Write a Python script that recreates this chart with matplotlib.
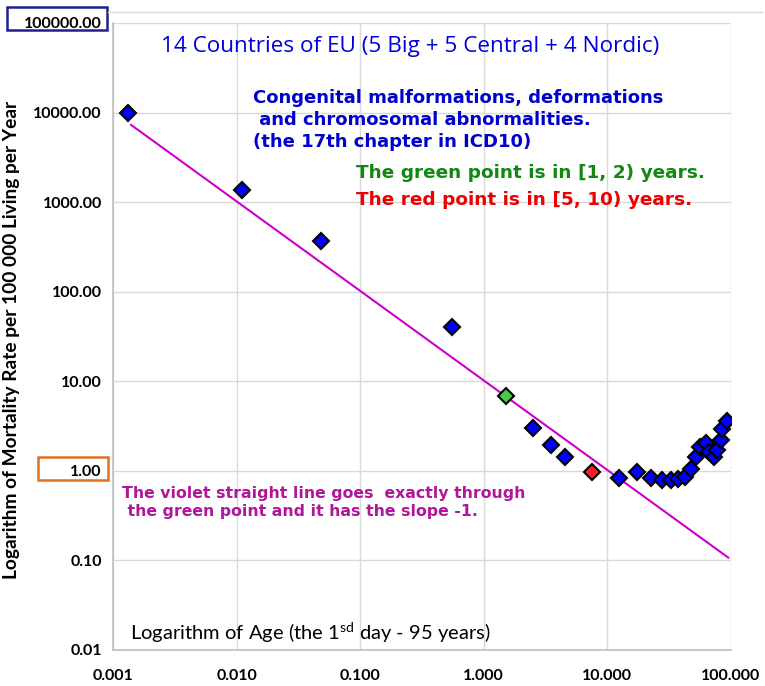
import numpy as np
import matplotlib.pyplot as plt
from matplotlib.patches import Rectangle
from matplotlib.lines import Line2D
from matplotlib.ticker import FixedLocator, FixedFormatter, NullLocator

# Age (years) and mortality rate per 100 000 living per year
ages = [0.00132, 0.0111, 0.048, 0.553, 2.5, 3.5, 4.5,
        12.5, 17.5, 22.5, 27.5, 32.5, 37.5, 42.5, 47.5, 52.5,
        56.5, 62.5, 66, 72.5, 77.5, 82.5, 85, 92.5]
rates = [9800, 1370, 370, 40.5, 3.0, 1.95, 1.43,
         0.84, 0.97, 0.835, 0.80, 0.80, 0.81, 0.86, 1.05, 1.43,
         1.85, 2.05, 1.62, 1.43, 1.72, 2.2, 2.94, 3.6]

green_age, green_rate = 1.5, 6.8
red_age, red_rate = 7.5, 0.97

line_x = [0.0014, 95.0]

xticks = [0.001, 0.01, 0.1, 1, 10, 100]
xtick_labels = ["0.001", "0.010", "0.100", "1.000", "10.000", "100.000"]
yticks = [0.01, 0.1, 1, 10, 100, 1000, 10000, 100000]
ytick_labels = ["0.01", "0.10", "1.00", "10.00", "100.00", "1000.00", "10000.00", "100000.00"]

fig = plt.figure(figsize=(7.65, 6.86), dpi=100)
ax = fig.add_axes([0.1477, 0.0525, 0.8079, 0.914])

ax.set_xscale("log")
ax.set_yscale("log")
ax.set_xlim(0.001, 100)
ax.set_ylim(0.01, 100000)

# violet line with slope -1 through the green point
lx = np.array(line_x)
ax.plot(lx, green_rate * green_age / lx, color="#CC00CC", lw=1.5, zorder=2)

ax.plot(ages, rates, "D", color="#0000FF", mec="black", mew=1.5, ms=8.5, zorder=3, ls="none")
ax.plot([green_age], [green_rate], "D", color="#44CC44", mec="black", mew=1.5, ms=8.5, zorder=3)
ax.plot([red_age], [red_rate], "D", color="#EE2222", mec="black", mew=1.5, ms=8.5, zorder=3)

ax.xaxis.set_major_locator(FixedLocator(xticks))
ax.xaxis.set_major_formatter(FixedFormatter(xtick_labels))
ax.xaxis.set_minor_locator(NullLocator())
ax.yaxis.set_major_locator(FixedLocator(yticks))
ax.yaxis.set_major_formatter(FixedFormatter(ytick_labels))
ax.yaxis.set_minor_locator(NullLocator())

ax.grid(True, color="#D9D9D9", lw=1)
ax.set_axisbelow(True)
for s in ["top", "right"]:
    ax.spines[s].set_visible(False)
for s in ["left", "bottom"]:
    ax.spines[s].set_color("#BFBFBF")
    ax.spines[s].set_linewidth(1.2)
ax.tick_params(length=0, pad=8)
for lab in ax.get_xticklabels() + ax.get_yticklabels():
    lab.set_fontweight("bold")
    lab.set_fontsize(11.5)
    lab.set_family("Lato")
ax.tick_params(axis="x", pad=14)

# boxes around the 100000.00 and 1.00 tick labels
fig.patches.append(Rectangle((0.0092, 0.9563), 0.1307, 0.0335, transform=fig.transFigure,
                             fill=False, edgecolor="#1F1F8F", lw=1.8))
fig.patches.append(Rectangle((0.0497, 0.3003), 0.0915, 0.0335, transform=fig.transFigure,
                             fill=False, edgecolor="#E07020", lw=1.8))
# chart area border line at the top
fig.lines.append(Line2D([0.141, 0.996], [0.9825, 0.9825], transform=fig.transFigure,
                        color="#D9D9D9", lw=1))

ax.set_ylabel("Logarithm of Mortality Rate per 100 000 Living per Year",
              fontsize=13.8, fontweight="bold", family="Lato")
ax.yaxis.set_label_coords(-0.150, 0.494)

ax.text(0.48, 0.963, "14 Countries of EU (5 Big + 5 Central + 4 Nordic)",
        transform=ax.transAxes, ha="center", va="center", fontsize=16.2,
        color="#0000DD", family="Open Sans")

ax.text(0.227, 0.895,
        "Congenital malformations, deformations\n and chromosomal abnormalities.\n(the 17th chapter in ICD10)",
        transform=ax.transAxes, ha="left", va="top", fontsize=13,
        fontweight="bold", color="#0000CC", linespacing=1.28)
ax.text(0.393, 0.760, "The green point is in [1, 2) years.",
        transform=ax.transAxes, ha="left", va="center", fontsize=13.3,
        fontweight="bold", color="#118811")
ax.text(0.393, 0.717, "The red point is in [5, 10) years.",
        transform=ax.transAxes, ha="left", va="center", fontsize=13.3,
        fontweight="bold", color="#EE0000")

ax.text(0.014, 0.262,
        "The violet straight line goes  exactly through\n the green point and it has the slope -1.",
        transform=ax.transAxes, ha="left", va="top", fontsize=11.3,
        fontweight="bold", color="#B0169A", linespacing=1.25)

ax.text(0.027, 0.008, "Logarithm of Age (the 1$^{\\mathregular{sd}}$ day - 95 years)",
        transform=ax.transAxes, ha="left", va="bottom", fontsize=14.5,
        color="black", family="Lato")

fig.savefig("out.png", dpi=100)
